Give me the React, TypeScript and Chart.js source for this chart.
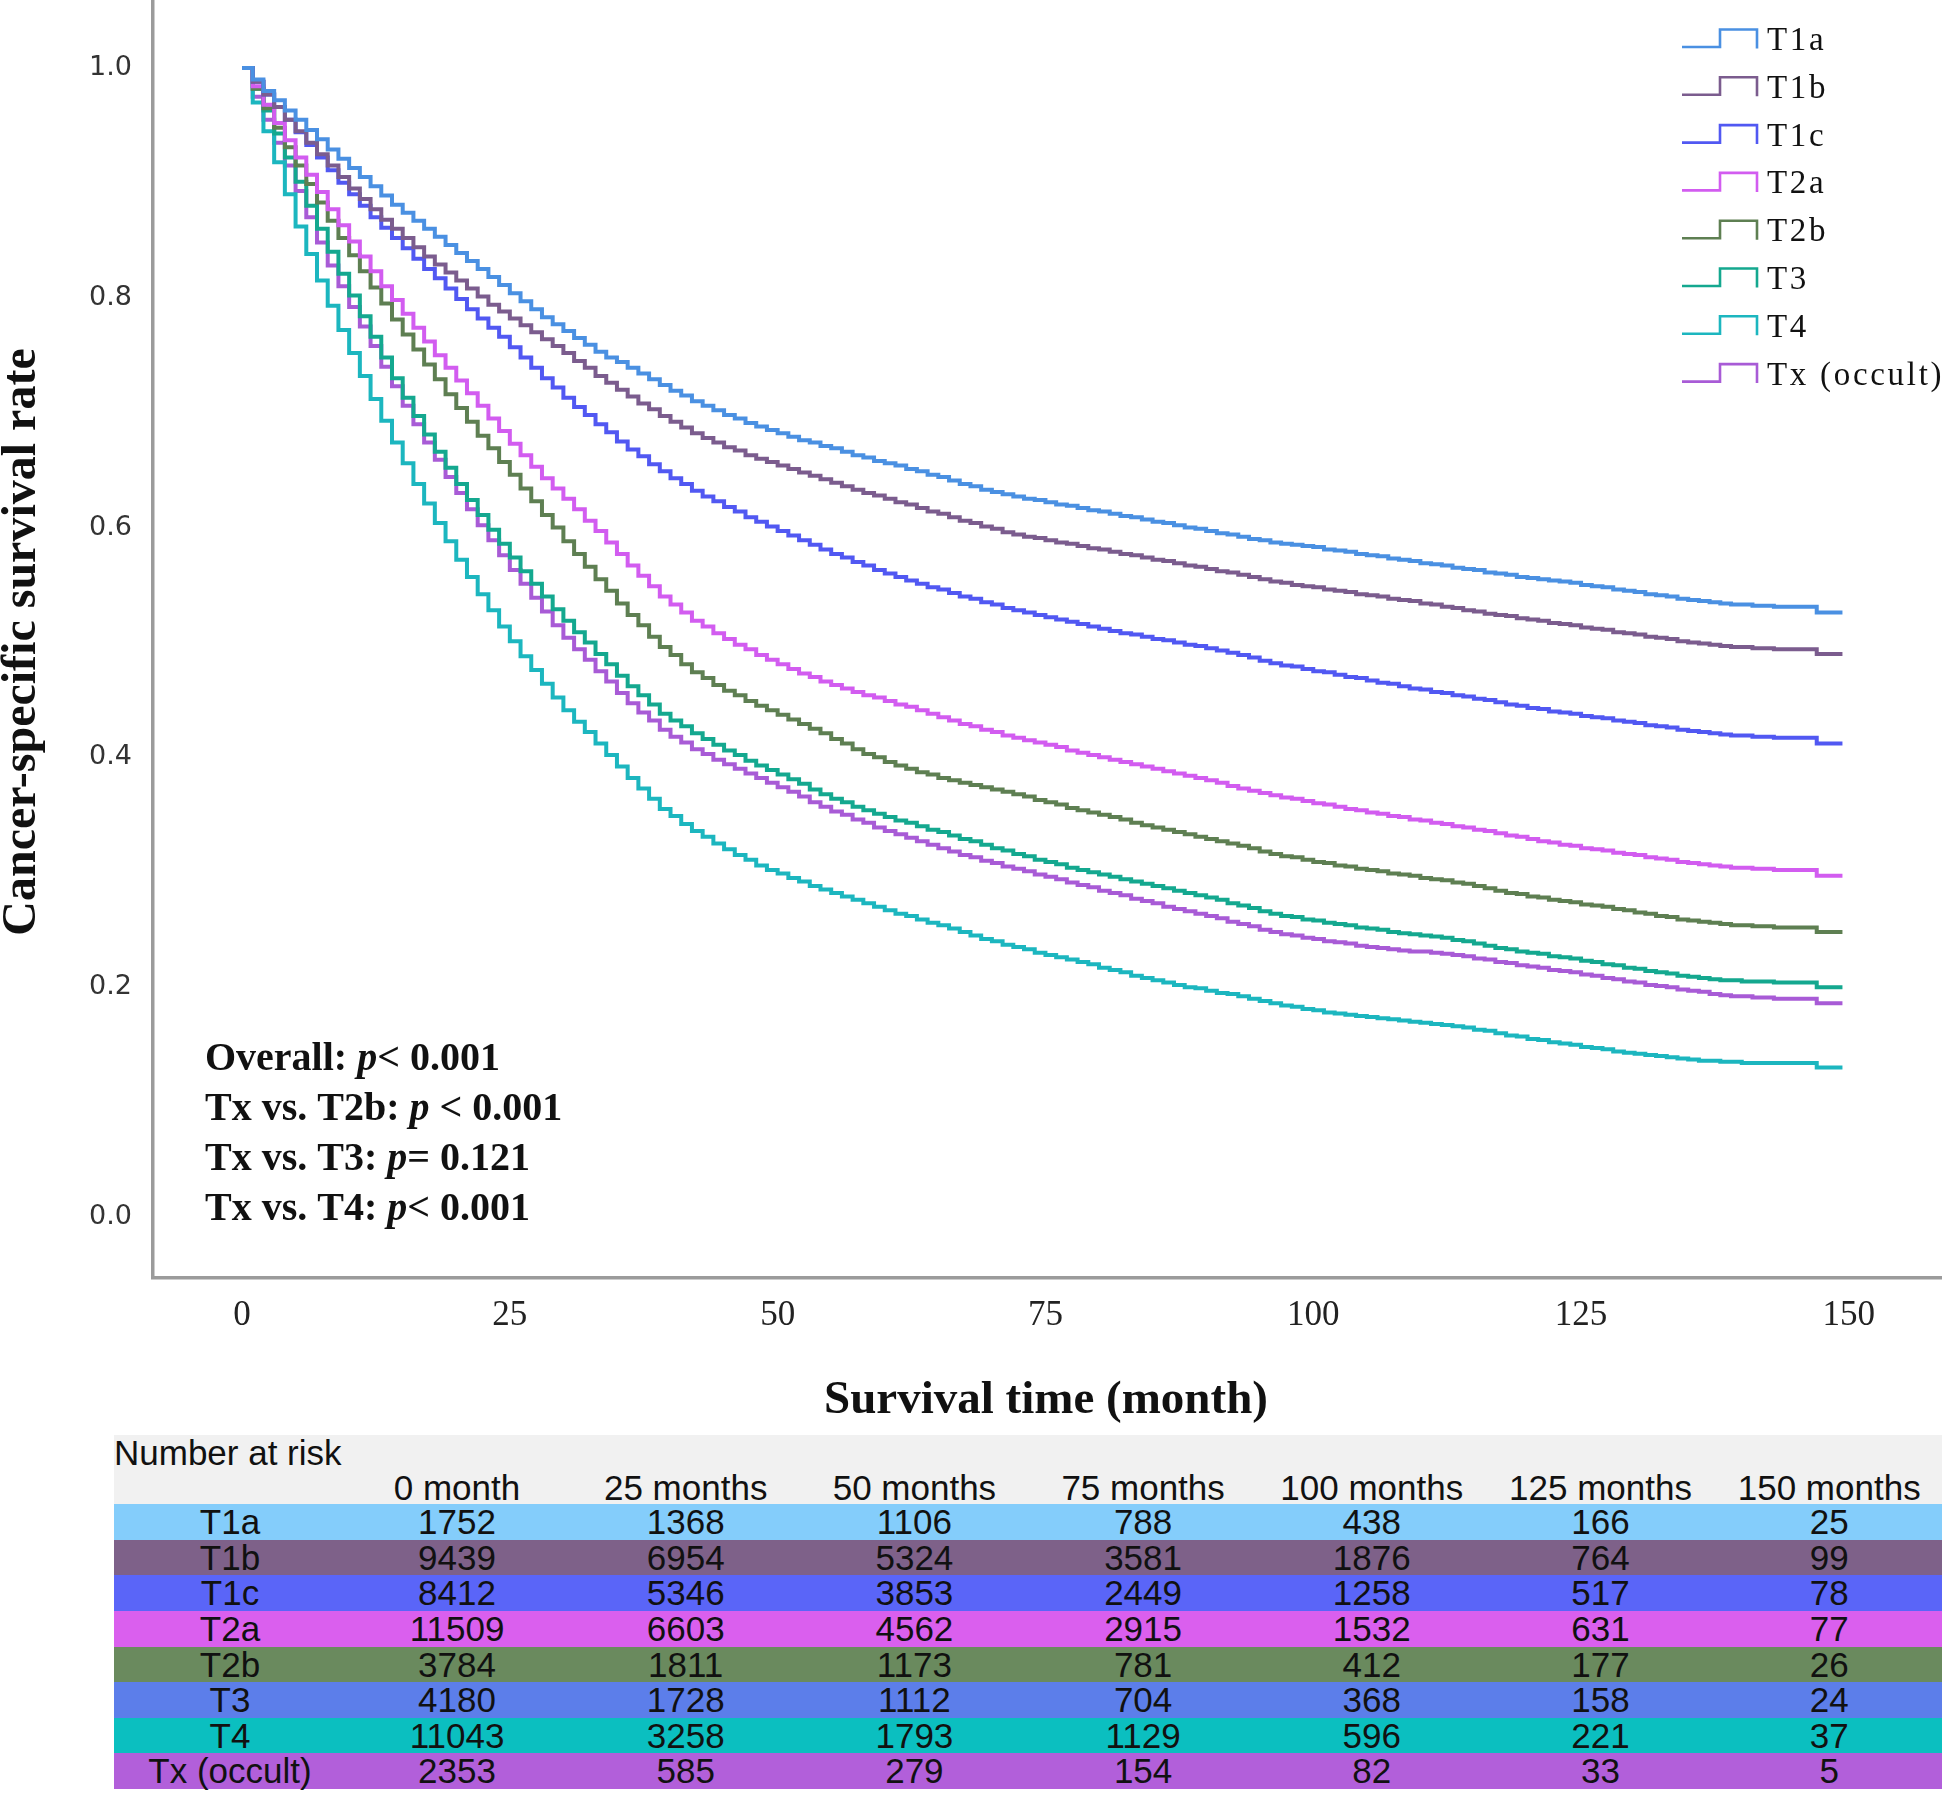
import React, { useEffect, useRef } from 'react';
import { Chart, registerables } from 'chart.js';

Chart.register(...registerables);

// ---------------- DATA ----------------
const TIMES = [
  0,1,2,3,4,5,6,7,8,9,
  10,11,12,13,14,15,16,17,18,19,
  20,21,22,23,24,25,26,27,28,29,
  30,31,32,33,34,35,36,37,38,39,
  40,41,42,43,44,45,46,47,48,49,
  50,51,52,53,54,55,56,57,58,59,
  60,61,62,63,64,65,66,67,68,69,
  70,71,72,73,74,75,76,77,78,79,
  80,81,82,83,84,85,86,87,88,89,
  90,91,92,93,94,95,96,97,98,99,
  100,101,102,103,104,105,106,107,108,109,
  110,111,112,113,114,115,116,117,118,119,
  120,121,122,123,124,125,126,127,128,129,
  130,131,132,133,134,135,136,137,138,139,
  140,141,142,143,144,145,146,147,148,149,
  149.4,
];

const SERIES_LABELS = ['T1a', 'T1b', 'T1c', 'T2a', 'T2b', 'T3', 'T4', 'Tx (occult)'];
const LINE_COLORS = ['#4A90E2', '#7B5C8E', '#5158F2', '#D25CF0', '#5E7F52', '#14A88F', '#1CB6BF', '#A85BD6'];

const T1A = [
  1.000,0.990,0.980,0.972,0.963,0.955,0.946,0.938,0.929,0.921,
  0.913,0.905,0.897,0.889,0.881,0.874,0.867,0.860,0.853,0.846,
  0.839,0.832,0.825,0.818,0.811,0.804,0.797,0.790,0.783,0.777,
  0.771,0.765,0.759,0.753,0.748,0.744,0.739,0.734,0.729,0.724,
  0.719,0.715,0.710,0.706,0.702,0.698,0.695,0.691,0.688,0.685,
  0.682,0.679,0.676,0.674,0.671,0.669,0.666,0.663,0.661,0.658,
  0.656,0.654,0.651,0.649,0.646,0.644,0.641,0.638,0.636,0.633,
  0.631,0.629,0.627,0.625,0.624,0.622,0.620,0.619,0.617,0.615,
  0.614,0.612,0.610,0.609,0.607,0.605,0.604,0.602,0.600,0.599,
  0.597,0.595,0.594,0.592,0.590,0.589,0.587,0.586,0.585,0.584,
  0.583,0.581,0.580,0.579,0.577,0.576,0.575,0.573,0.572,0.571,
  0.569,0.568,0.567,0.565,0.564,0.563,0.561,0.560,0.559,0.557,
  0.556,0.555,0.554,0.553,0.552,0.550,0.549,0.548,0.546,0.545,
  0.544,0.542,0.541,0.540,0.538,0.537,0.536,0.535,0.534,0.533,
  0.533,0.532,0.532,0.531,0.531,0.531,0.531,0.526,0.526,0.526,
  0.526,
];
const T1B = [
  1.000,0.988,0.977,0.966,0.955,0.945,0.935,0.925,0.915,0.905,
  0.895,0.886,0.877,0.868,0.860,0.852,0.844,0.836,0.829,0.822,
  0.815,0.808,0.801,0.794,0.788,0.782,0.776,0.770,0.764,0.758,
  0.752,0.745,0.739,0.732,0.726,0.720,0.714,0.708,0.703,0.697,
  0.692,0.687,0.682,0.678,0.674,0.670,0.667,0.663,0.660,0.657,
  0.654,0.651,0.648,0.645,0.642,0.639,0.636,0.633,0.630,0.628,
  0.625,0.622,0.620,0.617,0.614,0.612,0.609,0.606,0.604,0.601,
  0.599,0.596,0.594,0.592,0.591,0.589,0.587,0.586,0.584,0.582,
  0.581,0.579,0.577,0.576,0.574,0.572,0.571,0.569,0.567,0.566,
  0.564,0.562,0.561,0.559,0.557,0.555,0.553,0.552,0.550,0.549,
  0.548,0.546,0.545,0.544,0.542,0.541,0.540,0.538,0.537,0.536,
  0.534,0.533,0.531,0.530,0.528,0.527,0.525,0.524,0.523,0.521,
  0.520,0.519,0.517,0.516,0.515,0.513,0.512,0.511,0.509,0.508,
  0.507,0.505,0.504,0.503,0.501,0.500,0.499,0.498,0.497,0.496,
  0.496,0.495,0.495,0.494,0.494,0.494,0.494,0.490,0.490,0.490,
  0.490,
];
const T1C = [
  1.000,0.988,0.977,0.966,0.955,0.944,0.933,0.922,0.911,0.900,
  0.890,0.880,0.870,0.861,0.852,0.843,0.834,0.825,0.817,0.808,
  0.799,0.790,0.782,0.774,0.766,0.757,0.748,0.739,0.730,0.722,
  0.713,0.705,0.698,0.690,0.683,0.675,0.668,0.662,0.655,0.649,
  0.643,0.638,0.632,0.627,0.623,0.618,0.614,0.609,0.605,0.601,
  0.597,0.593,0.589,0.585,0.581,0.577,0.574,0.570,0.567,0.563,
  0.560,0.557,0.554,0.551,0.548,0.546,0.543,0.540,0.538,0.535,
  0.533,0.530,0.528,0.526,0.524,0.522,0.520,0.518,0.516,0.514,
  0.512,0.510,0.508,0.507,0.505,0.503,0.502,0.500,0.498,0.497,
  0.495,0.493,0.491,0.489,0.487,0.484,0.482,0.480,0.479,0.477,
  0.475,0.474,0.472,0.470,0.469,0.467,0.465,0.464,0.462,0.460,
  0.459,0.457,0.456,0.454,0.453,0.451,0.450,0.448,0.446,0.445,
  0.443,0.442,0.440,0.439,0.438,0.436,0.435,0.434,0.432,0.431,
  0.430,0.428,0.427,0.426,0.424,0.423,0.422,0.421,0.420,0.419,
  0.419,0.418,0.418,0.417,0.417,0.417,0.417,0.412,0.412,0.412,
  0.412,
];
const T2A = [
  1.000,0.984,0.968,0.952,0.937,0.922,0.907,0.892,0.877,0.863,
  0.849,0.836,0.823,0.810,0.798,0.786,0.774,0.762,0.750,0.739,
  0.728,0.717,0.706,0.695,0.684,0.673,0.663,0.653,0.643,0.634,
  0.625,0.616,0.606,0.597,0.587,0.577,0.567,0.558,0.549,0.540,
  0.533,0.526,0.519,0.514,0.508,0.503,0.498,0.494,0.489,0.485,
  0.481,0.477,0.473,0.470,0.466,0.463,0.460,0.457,0.454,0.452,
  0.449,0.446,0.444,0.441,0.438,0.435,0.432,0.429,0.427,0.424,
  0.422,0.419,0.417,0.415,0.413,0.411,0.409,0.406,0.404,0.402,
  0.400,0.398,0.396,0.394,0.392,0.390,0.388,0.386,0.384,0.382,
  0.380,0.378,0.375,0.373,0.371,0.369,0.367,0.365,0.364,0.362,
  0.360,0.359,0.357,0.355,0.354,0.352,0.351,0.349,0.348,0.346,
  0.345,0.343,0.342,0.340,0.339,0.337,0.336,0.334,0.332,0.331,
  0.329,0.327,0.326,0.324,0.323,0.321,0.320,0.319,0.317,0.316,
  0.315,0.313,0.312,0.311,0.309,0.308,0.307,0.306,0.305,0.304,
  0.304,0.303,0.303,0.302,0.302,0.302,0.302,0.297,0.297,0.297,
  0.297,
];
const T2B = [
  1.000,0.982,0.965,0.948,0.931,0.915,0.899,0.883,0.867,0.852,
  0.837,0.823,0.809,0.795,0.781,0.768,0.755,0.742,0.729,0.716,
  0.704,0.692,0.680,0.669,0.657,0.646,0.634,0.623,0.611,0.600,
  0.588,0.577,0.566,0.555,0.545,0.534,0.524,0.515,0.505,0.496,
  0.489,0.481,0.474,0.469,0.463,0.458,0.454,0.449,0.445,0.441,
  0.437,0.433,0.429,0.425,0.421,0.416,0.412,0.407,0.403,0.400,
  0.396,0.393,0.390,0.387,0.385,0.382,0.380,0.378,0.376,0.374,
  0.372,0.370,0.368,0.366,0.363,0.361,0.359,0.356,0.354,0.352,
  0.350,0.348,0.346,0.343,0.341,0.339,0.337,0.335,0.333,0.331,
  0.329,0.327,0.325,0.323,0.321,0.318,0.316,0.314,0.313,0.311,
  0.309,0.308,0.306,0.305,0.303,0.302,0.301,0.299,0.298,0.297,
  0.295,0.294,0.293,0.291,0.290,0.288,0.286,0.284,0.282,0.281,
  0.279,0.278,0.276,0.275,0.274,0.272,0.271,0.270,0.268,0.267,
  0.265,0.264,0.262,0.261,0.259,0.258,0.257,0.256,0.255,0.254,
  0.254,0.253,0.253,0.252,0.252,0.252,0.252,0.248,0.248,0.248,
  0.248,
];
const T3 = [
  1.000,0.982,0.963,0.943,0.922,0.901,0.880,0.860,0.840,0.821,
  0.802,0.784,0.766,0.748,0.730,0.713,0.697,0.681,0.666,0.652,
  0.638,0.624,0.611,0.598,0.586,0.574,0.562,0.551,0.540,0.529,
  0.519,0.509,0.500,0.490,0.481,0.471,0.462,0.454,0.446,0.438,
  0.432,0.427,0.421,0.416,0.411,0.406,0.402,0.397,0.393,0.389,
  0.385,0.381,0.377,0.372,0.368,0.364,0.361,0.357,0.354,0.351,
  0.348,0.345,0.343,0.340,0.337,0.335,0.332,0.329,0.327,0.324,
  0.321,0.319,0.316,0.314,0.311,0.309,0.307,0.304,0.302,0.300,
  0.298,0.296,0.294,0.292,0.290,0.288,0.286,0.284,0.282,0.280,
  0.278,0.276,0.273,0.271,0.269,0.266,0.264,0.262,0.261,0.259,
  0.258,0.256,0.255,0.254,0.252,0.251,0.250,0.248,0.247,0.246,
  0.245,0.244,0.243,0.241,0.240,0.238,0.236,0.234,0.233,0.231,
  0.230,0.229,0.227,0.226,0.225,0.223,0.222,0.220,0.219,0.217,
  0.216,0.214,0.213,0.212,0.210,0.209,0.208,0.207,0.206,0.206,
  0.205,0.205,0.205,0.204,0.204,0.204,0.204,0.200,0.200,0.200,
  0.200,
];
const T4 = [
  1.000,0.970,0.945,0.918,0.890,0.862,0.838,0.815,0.793,0.772,
  0.752,0.732,0.712,0.693,0.674,0.656,0.638,0.621,0.604,0.588,
  0.572,0.557,0.542,0.528,0.514,0.501,0.488,0.476,0.464,0.452,
  0.441,0.431,0.422,0.412,0.402,0.392,0.382,0.373,0.364,0.355,
  0.349,0.342,0.336,0.331,0.325,0.320,0.315,0.311,0.306,0.302,
  0.299,0.295,0.292,0.288,0.285,0.282,0.279,0.276,0.273,0.270,
  0.267,0.264,0.262,0.259,0.256,0.254,0.251,0.248,0.245,0.242,
  0.240,0.237,0.235,0.233,0.230,0.228,0.226,0.224,0.222,0.220,
  0.217,0.215,0.213,0.210,0.208,0.206,0.204,0.202,0.200,0.199,
  0.197,0.195,0.194,0.192,0.190,0.188,0.186,0.184,0.183,0.181,
  0.180,0.178,0.177,0.176,0.175,0.174,0.173,0.172,0.171,0.170,
  0.169,0.168,0.167,0.166,0.165,0.163,0.162,0.160,0.158,0.157,
  0.155,0.154,0.152,0.151,0.150,0.148,0.147,0.146,0.144,0.143,
  0.142,0.141,0.140,0.139,0.138,0.137,0.136,0.136,0.135,0.135,
  0.134,0.134,0.134,0.134,0.134,0.134,0.134,0.130,0.130,0.130,
  0.130,
];
const TX = [
  1.000,0.975,0.955,0.935,0.915,0.893,0.870,0.848,0.828,0.810,
  0.792,0.775,0.758,0.740,0.723,0.706,0.690,0.674,0.659,0.644,
  0.630,0.616,0.602,0.589,0.576,0.563,0.551,0.539,0.527,0.515,
  0.504,0.494,0.485,0.475,0.466,0.456,0.447,0.439,0.432,0.424,
  0.418,0.413,0.407,0.403,0.398,0.394,0.390,0.386,0.382,0.378,
  0.374,0.370,0.366,0.361,0.357,0.353,0.350,0.346,0.343,0.339,
  0.336,0.333,0.330,0.327,0.324,0.321,0.318,0.315,0.313,0.310,
  0.308,0.305,0.303,0.301,0.298,0.296,0.294,0.291,0.289,0.287,
  0.284,0.282,0.280,0.277,0.275,0.273,0.270,0.268,0.266,0.264,
  0.262,0.260,0.257,0.255,0.253,0.250,0.248,0.246,0.245,0.243,
  0.242,0.240,0.239,0.238,0.236,0.235,0.234,0.233,0.232,0.231,
  0.231,0.230,0.229,0.228,0.227,0.225,0.224,0.222,0.221,0.219,
  0.218,0.217,0.215,0.214,0.213,0.211,0.210,0.208,0.207,0.205,
  0.204,0.202,0.201,0.200,0.198,0.197,0.196,0.194,0.193,0.192,
  0.192,0.191,0.191,0.190,0.190,0.190,0.190,0.186,0.186,0.186,
  0.186,
];

const SERIES_VALUES = [T1A, T1B, T1C, T2A, T2B, T3, T4, TX];

const X_TICKS = [0, 25, 50, 75, 100, 125, 150];
const Y_TICKS = [0, 0.2, 0.4, 0.6, 0.8, 1.0];

const X_TITLE = 'Survival time (month)';
const Y_TITLE = 'Cancer-specific survival rate';

// [text, italic]
const P_LINES: [string, boolean][][] = [
  [['Overall: ', false], ['p', true], ['< 0.001', false]],
  [['Tx vs. T2b: ', false], ['p', true], [' < 0.001', false]],
  [['Tx vs. T3: ', false], ['p', true], ['= 0.121', false]],
  [['Tx vs. T4: ', false], ['p', true], ['< 0.001', false]],
];

const RISK_TITLE = 'Number at risk';
const RISK_COLUMNS = ['0 month', '25 months', '50 months', '75 months', '100 months', '125 months', '150 months'];
const RISK_T1A = [1752, 1368, 1106, 788, 438, 166, 25];
const RISK_T1B = [9439, 6954, 5324, 3581, 1876, 764, 99];
const RISK_T1C = [8412, 5346, 3853, 2449, 1258, 517, 78];
const RISK_T2A = [11509, 6603, 4562, 2915, 1532, 631, 77];
const RISK_T2B = [3784, 1811, 1173, 781, 412, 177, 26];
const RISK_T3 = [4180, 1728, 1112, 704, 368, 158, 24];
const RISK_T4 = [11043, 3258, 1793, 1129, 596, 221, 37];
const RISK_TX = [2353, 585, 279, 154, 82, 33, 5];
const RISK_ROWS = [RISK_T1A, RISK_T1B, RISK_T1C, RISK_T2A, RISK_T2B, RISK_T3, RISK_T4, RISK_TX];
const ROW_COLORS = ['#84CDFB', '#7E6189', '#5A65F8', '#DA5FEE', '#6A8A5E', '#5C7EEA', '#0BBFC0', '#B25FDA'];

// ---------------- overlay plugin ----------------
const SERIF = '"Liberation Serif", "Times New Roman", serif';

const overlayPlugin = {
  id: 'overlayText',
  afterDraw(chart: any) {
    const ctx: CanvasRenderingContext2D = chart.ctx;
    const area = chart.chartArea;
    ctx.save();

    // legend (step icons)
    SERIES_LABELS.forEach((label, i) => {
      const base = 50 + i * 47.8;
      ctx.strokeStyle = LINE_COLORS[i];
      ctx.lineWidth = 2.6;
      ctx.lineJoin = 'miter';
      ctx.beginPath();
      ctx.moveTo(1682, base - 3);
      ctx.lineTo(1720, base - 3);
      ctx.lineTo(1720, base - 20.5);
      ctx.lineTo(1757, base - 20.5);
      ctx.lineTo(1757, base - 1.5);
      ctx.stroke();
      ctx.fillStyle = '#111';
      ctx.font = `33px ${SERIF}`;
      (ctx as any).letterSpacing = '2.7px';
      ctx.textAlign = 'left';
      ctx.textBaseline = 'alphabetic';
      ctx.fillText(label, 1767, base);
    });
    (ctx as any).letterSpacing = '0px';

    // p-value annotation
    P_LINES.forEach((parts, i) => {
      let x = area.left + 52;
      const y = 1070 + i * 50;
      parts.forEach(([txt, italic]) => {
        ctx.font = `${italic ? 'italic ' : ''}bold 40px ${SERIF}`;
        ctx.fillStyle = '#111';
        ctx.textAlign = 'left';
        ctx.textBaseline = 'alphabetic';
        ctx.fillText(txt, x, y);
        x += ctx.measureText(txt).width;
      });
    });

    // x title
    ctx.font = `bold 47px ${SERIF}`;
    ctx.fillStyle = '#111';
    ctx.textAlign = 'center';
    ctx.textBaseline = 'alphabetic';
    ctx.fillText(X_TITLE, 1046, 1413);

    // y title
    ctx.translate(35, 642);
    ctx.rotate(-Math.PI / 2);
    ctx.font = `bold 48px ${SERIF}`;
    ctx.fillText(Y_TITLE, 0, 0);

    ctx.restore();
  },
};

export default function App() {
  const canvasRef = useRef<HTMLCanvasElement>(null);

  useEffect(() => {
    const canvas = canvasRef.current;
    if (!canvas) return;
    const datasets = SERIES_VALUES.map((vals, i) => ({
      label: SERIES_LABELS[i],
      data: TIMES.map((t, j) => ({ x: t, y: vals[j] })),
      borderColor: LINE_COLORS[i],
      backgroundColor: LINE_COLORS[i],
      borderWidth: 4,
      pointRadius: 0,
      stepped: 'before' as const,
      fill: false,
      tension: 0,
    }));

    const chart = new Chart(canvas, {
      type: 'line',
      data: { datasets },
      options: {
        responsive: false,
        animation: false,
        devicePixelRatio: 1,
        layout: { padding: { left: 0, right: 5, top: 2, bottom: 0 } },
        plugins: { legend: { display: false }, tooltip: { enabled: false } },
        scales: {
          x: {
            type: 'linear',
            min: -8.31,
            max: 158.6,
            grid: { display: false, drawTicks: false },
            border: { display: true, color: '#9b9b9b', width: 3.5 },
            ticks: {
              padding: 17,
              color: '#222',
              autoSkip: false,
              maxRotation: 0,
              font: { family: SERIF, size: 35 },
              callback: (v: any) => String(v),
            },
            afterBuildTicks: (s: any) => { s.ticks = X_TICKS.map((value) => ({ value })); },
            afterFit: (s: any) => { s.height = 152; s.paddingLeft = 0; s.paddingRight = 0; },
          },
          y: {
            type: 'linear',
            min: -0.0531,
            max: 1.0574,
            grid: { display: false, drawTicks: false },
            border: { display: true, color: '#9b9b9b', width: 3.5 },
            ticks: {
              padding: 21,
              color: '#333',
              font: { family: '"DejaVu Sans", Verdana, sans-serif', size: 27 },
              callback: (v: any) => Number(v).toFixed(1),
            },
            afterBuildTicks: (s: any) => { s.ticks = Y_TICKS.map((value) => ({ value })); },
            afterFit: (s: any) => { s.width = 153; s.paddingTop = 0; s.paddingBottom = 0; },
          },
        },
      } as any,
      plugins: [overlayPlugin],
    });
    return () => chart.destroy();
  }, []);

  const tableLeft = 114;
  const tableWidth = 1828;
  const rowTop = 1504;
  const rowH = 35.63;
  const colCenter = (k: number) => 457 + k * 228.7 - tableLeft;
  const font = '35px "Liberation Sans", Arial, sans-serif';

  return (
    <div style={{ position: 'absolute', left: 0, top: 0, width: 1946, height: 1795, background: '#fff', overflow: 'hidden' }}>
      <canvas
        ref={canvasRef}
        width={1946}
        height={1430}
        style={{ position: 'absolute', left: 0, top: 0, width: 1946, height: 1430 }}
      />
      {/* header */}
      <div style={{ position: 'absolute', left: tableLeft, top: 1435, width: tableWidth, height: rowTop - 1435, background: '#f1f1f1' }}>
        <div style={{ position: 'absolute', left: 0, top: 0, font, lineHeight: '36px', color: '#111', whiteSpace: 'nowrap' }}>{RISK_TITLE}</div>
        {RISK_COLUMNS.map((c, k) => (
          <div key={c} style={{ position: 'absolute', left: colCenter(k) - 120, width: 240, top: 35, textAlign: 'center', font, lineHeight: '36px', color: '#111', whiteSpace: 'nowrap' }}>{c}</div>
        ))}
      </div>
      {RISK_ROWS.map((row, i) => (
        <div key={SERIES_LABELS[i]} style={{ position: 'absolute', left: tableLeft, top: rowTop + i * rowH, width: tableWidth, height: rowH, background: ROW_COLORS[i] }}>
          <div style={{ position: 'absolute', left: 230 - tableLeft - 110, width: 220, top: 0, textAlign: 'center', font, lineHeight: `${rowH}px`, color: '#111', whiteSpace: 'nowrap' }}>{SERIES_LABELS[i]}</div>
          {row.map((n, k) => (
            <div key={k} style={{ position: 'absolute', left: colCenter(k) - 110, width: 220, top: 0, textAlign: 'center', font, lineHeight: `${rowH}px`, color: '#111', whiteSpace: 'nowrap' }}>{n}</div>
          ))}
        </div>
      ))}
    </div>
  );
}
